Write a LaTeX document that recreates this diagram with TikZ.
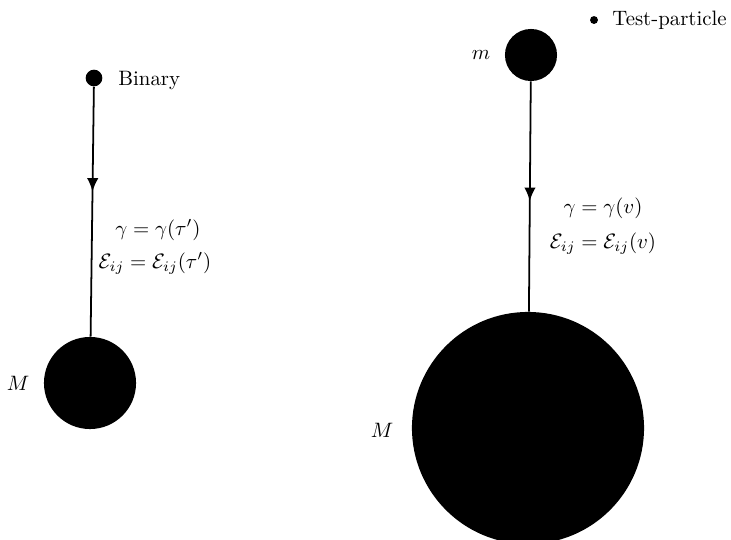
\documentclass[tikz,border=0pt]{standalone}
\usepackage{amsmath,amssymb}
\usetikzlibrary{arrows.meta,decorations.markings}

\begin{document}
\begin{tikzpicture}[
    x=0.48pt, y=-0.48pt,
    body/.style={circle, fill=black, draw=none, inner sep=0pt},
    flow/.style={line width=0.85pt, postaction={decorate},
      decoration={markings, mark=at position #1 with {\arrow{Latex[length=6.5pt,width=5.5pt]}}}},
    lbl/.style={inner sep=0pt}
  ]
    \useasboundingbox (0,0) rectangle (731,540);
    \clip (0,0) rectangle (731,540);

    % binary falling onto M
    \node[body, minimum size=8pt] (binary) at (94,78) {};
    \node[lbl, anchor=base west] (binarytxt) at (118,85) {Binary};
    \node[body, minimum size=44.2pt] (bigL) at (90,383) {};
    \node[lbl] (ML) at (18,383) {$M$};
    \node[lbl, anchor=base] (gamL) at (158,235) {$\gamma = \gamma(\tau')$};
    \node[lbl, anchor=base] (epsL) at (155,268) {$\mathcal{E}_{ij} = \mathcal{E}_{ij}(\tau')$};
    \draw[flow=0.42] (binary) -- (bigL);

    % test particle m falling onto M
    \node[body, minimum size=3.8pt] (tp) at (594,20) {};
    \node[lbl, anchor=base west] (tptxt) at (612,25) {Test-particle};
    \node[body, minimum size=25pt] (small) at (531,55) {};
    \node[lbl] (mR) at (481,55) {$m$};
    \node[body, minimum size=111.4pt] (bigR) at (528,428) {};
    \node[lbl] (MR) at (382,430) {$M$};
    \node[lbl, anchor=base] (gamR) at (603,213) {$\gamma = \gamma(v)$};
    \node[lbl, anchor=base] (epsR) at (603,248) {$\mathcal{E}_{ij} = \mathcal{E}_{ij}(v)$};
    \draw[flow=0.52] (small) -- (bigR);
  \end{tikzpicture}
\end{document}
